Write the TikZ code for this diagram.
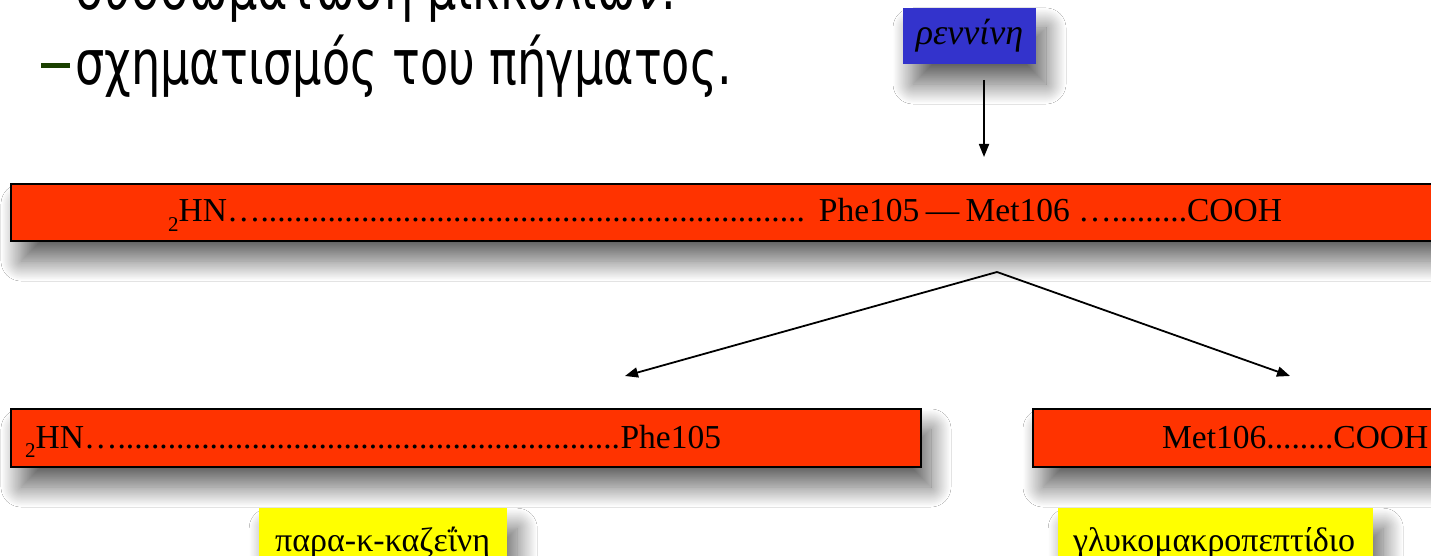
\documentclass[tikz,border=0pt]{standalone}
\usepackage{fontspec}
\setmainfont{Liberation Serif}
\newfontfamily\slidefont[FakeStretch=0.745]{DejaVu Sans}
\usetikzlibrary{shadows.blur,arrows.meta}

\definecolor{chainred}{RGB}{255,51,0}
\definecolor{enzymeblue}{RGB}{51,51,204}
\definecolor{labelyellow}{RGB}{255,255,0}
\definecolor{dashgreen}{RGB}{26,64,0}

\tikzset{
  softshadow/.style={blur shadow={shadow xshift=10pt, shadow yshift=-20pt,
      shadow blur radius=20pt, shadow blur steps=30, shadow opacity=62}},
  chainbar/.style={rectangle, draw=black, line width=2pt, fill=chainred,
      inner sep=0pt, anchor=north west, softshadow},
  enzymebox/.style={rectangle, fill=enzymeblue, inner sep=0pt, softshadow,
      font=\fontsize{36}{36}\selectfont\itshape},
  namebox/.style={rectangle, fill=labelyellow, inner sep=0pt, anchor=north west, softshadow},
  chaintext/.style={inner sep=0pt, anchor=base west, font=\fontsize{33.5}{33.5}\selectfont},
  nametext/.style={inner sep=0pt, anchor=base west, font=\fontsize{34}{34}\selectfont},
  bullettext/.style={inner sep=0pt, anchor=base west, font=\slidefont\fontsize{62}{62}\selectfont},
  arr/.style={line width=1.8pt, -{Triangle[length=13pt,width=10pt]}},
}
\newcommand{\Nterm}{\raisebox{-0.28em}{\fontsize{21}{21}\selectfont 2}HN}
\newcommand{\dotrun}[1]{\hbox to #1{\leaders\hbox{.}\hfill}}

\begin{document}
\begin{tikzpicture}[x=1pt,y=-1pt]
\useasboundingbox (0,0) rectangle (1431,556);
\clip (0,0) rectangle (1431,556);
\fill[white] (0,0) rectangle (1431,556);

% bullet lines of the slide text
\node[bullettext] (line1) at (75,10) {συσσωμάτωση μικκυλίων.};
\node[fill=dashgreen, minimum width=29pt, minimum height=5pt, inner sep=0pt] (dash) at (55,66) {};
\node[bullettext] (line2) at (75,85) {σχηματισμός του πήγματος.};

% enzyme
\node[enzymebox, minimum width=133pt, minimum height=56pt] (renin) at (969.5,36) {ρεννίνη};
\coordinate (cutfrom) at (984,80);
\coordinate (cutto) at (984,157);
\draw[arr] (cutfrom) -- (cutto);

% whole chain
\node[chainbar, minimum width=1460pt, minimum height=57pt] (chain) at (10,183) {};
\node[chaintext] (chaintxt) at (168,222)
  {\Nterm…\dotrun{550pt}\ Phe105\hspace{-2pt} — \hspace{-2pt}Met106 ….........COOH};

% cleavage arrows
\coordinate (apex) at (997,272);
\coordinate (ltip) at (625,376);
\coordinate (rtip) at (1290,376);
\draw[arr] (apex) -- (ltip);
\draw[arr] (apex) -- (rtip);

% fragments
\node[chainbar, minimum width=910pt, minimum height=58pt] (left) at (10,408) {};
\node[chaintext] (lefttxt) at (25,448) {\Nterm…\dotrun{503pt}Phe105};
\node[chainbar, minimum width=430pt, minimum height=58pt] (right) at (1032,408) {};
\node[chaintext] (righttxt) at (1162,448) {Met106........COOH};

% fragment names
\node[namebox, minimum width=248pt, minimum height=70pt] (para) at (259,508) {};
\node[nametext] (paratxt) at (275,551) {παρα-κ-καζεΐνη};
\node[namebox, minimum width=315pt, minimum height=70pt] (gmp) at (1058,508) {};
\node[nametext] (gmptxt) at (1073,551) {γλυκομακροπεπτίδιο};
\end{tikzpicture}
\end{document}
